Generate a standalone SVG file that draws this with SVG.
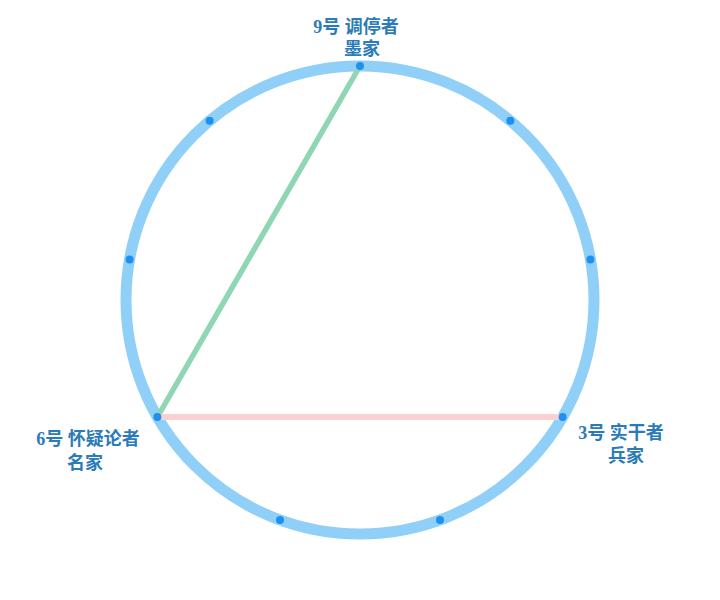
<svg xmlns="http://www.w3.org/2000/svg" width="720" height="600" viewBox="0 0 720 600">
<style>
.lbl{font-family:"Liberation Serif","Noto Sans CJK SC",serif;font-weight:bold;font-size:18px;fill:#2b7bb9;text-anchor:middle}
.dot{fill:#1e90f0}
</style>
<rect width="720" height="600" fill="#ffffff"/>
<g id="ring"><circle cx="360" cy="300" r="234" fill="none" stroke="#90d0f8" stroke-width="11"/></g>
<g id="connectors">
<line x1="360" y1="66" x2="157.4" y2="417" stroke="#8fd6b2" stroke-width="5.5"/>
<line x1="157.4" y1="417" x2="562.6" y2="417" stroke="#fbd0d0" stroke-width="6"/>
</g>
<g id="p1"><circle class="dot" cx="510.4" cy="120.8" r="4"/></g>
<g id="p2"><circle class="dot" cx="590.4" cy="259.4" r="4"/></g>
<g id="p4"><circle class="dot" cx="440" cy="519.9" r="4"/></g>
<g id="p5"><circle class="dot" cx="280" cy="519.9" r="4"/></g>
<g id="p7"><circle class="dot" cx="129.6" cy="259.4" r="4"/></g>
<g id="p8"><circle class="dot" cx="209.6" cy="120.8" r="4"/></g>
<g id="p9"><circle class="dot" cx="360" cy="66" r="4"/>
<text class="lbl" x="356" y="33">9号 调停者</text><text class="lbl" x="362" y="55">墨家</text></g>
<g id="p6"><circle class="dot" cx="157.4" cy="417" r="4"/>
<text class="lbl" x="88" y="445">6号 怀疑论者</text><text class="lbl" x="85" y="469">名家</text></g>
<g id="p3"><circle class="dot" cx="562.6" cy="417" r="4"/>
<text class="lbl" x="621" y="439">3号 实干者</text><text class="lbl" x="626" y="462">兵家</text></g>
</svg>
